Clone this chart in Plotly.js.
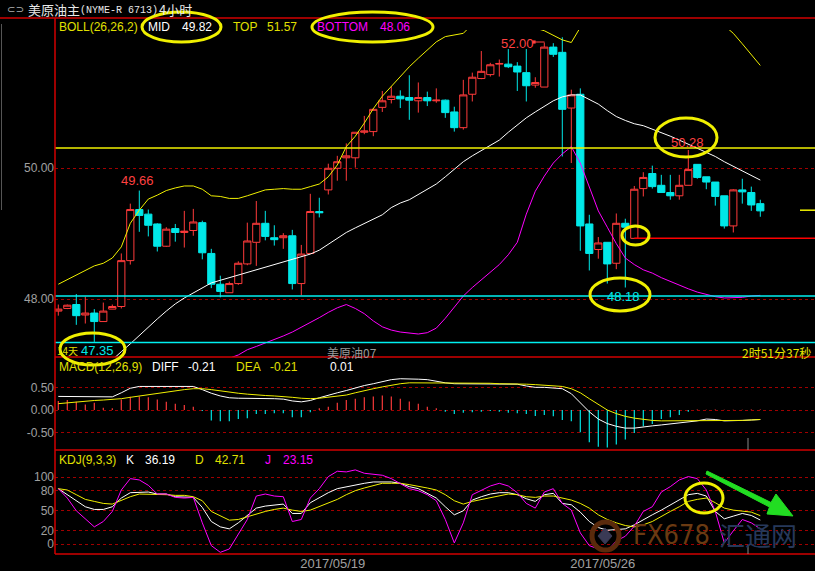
<!DOCTYPE html>
<html><head><meta charset="utf-8">
<script src="https://cdn.plot.ly/plotly-3.0.1.min.js"></script>
<style>html,body{margin:0;padding:0;background:#000;overflow:hidden}#chart{width:815px;height:571px}</style>
</head><body><div id="chart"></div>
<script>
// ---------------- DATA ----------------
const open = [47.82,47.86,47.92,47.76,47.79,47.66,47.85,47.89,48.59,49.37, 49.30,49.15,48.81,49.08,49.02,49.05,49.17,48.70,48.23,48.10, 48.24,48.54,48.87,49.16,48.94,48.94,48.97,48.24,48.70,49.34, 49.67,50.00,50.16,50.16,50.55,50.56,50.93,51.05,51.10,51.08, 51.03,51.08,51.03,51.04,50.86,50.62,51.13,51.37,51.43,51.59, 51.59,51.56,51.46,51.27,51.24,51.85,51.77,50.92,51.13,49.15, 48.76,48.87,48.55,49.16,48.93,49.69,49.92,49.74,49.63,49.58, 49.74,50.06,49.87,49.79,49.58,49.12,49.67,49.63,49.46];
const high = [47.92,47.92,48.08,48.04,47.85,47.95,47.92,48.70,49.46,49.66, 49.37,49.16,49.10,49.15,49.35,49.38,49.20,48.77,48.36,48.27, 48.58,49.17,49.50,49.35,49.13,49.01,49.06,48.83,49.61,49.55, 50.07,50.19,50.38,50.55,50.80,50.92,51.18,51.25,51.19,51.42, 51.31,51.17,51.22,51.05,50.94,51.35,51.46,51.79,51.61,51.66, 51.82,51.62,51.82,51.39,51.92,51.91,52.00,51.20,51.22,49.29, 48.95,48.87,49.31,49.23,49.73,49.94,50.04,49.90,49.90,49.90, 50.28,50.06,49.87,49.79,49.58,49.68,49.84,49.72,49.52];
const low = [47.75,47.85,47.61,47.63,47.35,47.66,47.85,47.86,48.53,49.03, 48.96,48.73,48.80,48.88,48.79,48.97,48.61,48.17,48.03,48.10, 48.22,48.52,48.51,48.90,48.82,48.77,48.15,48.06,48.70,49.25, 49.60,49.81,49.81,50.01,50.52,50.49,50.86,50.99,50.92,50.74, 50.85,50.95,51.00,50.77,50.56,50.59,51.02,51.36,51.40,51.40, 51.53,51.18,51.02,51.23,51.24,51.70,50.18,50.08,48.74,48.44, 48.62,48.24,48.46,48.18,48.93,49.57,49.69,49.63,49.52,49.52, 49.74,49.84,49.68,49.43,49.08,49.02,49.46,49.35,49.26];
const close = [47.85,47.91,47.75,47.79,47.66,47.82,47.89,48.59,49.37,49.28, 49.13,48.81,49.07,49.02,49.04,49.18,48.71,48.23,48.12,48.24, 48.55,48.89,49.16,48.96,48.91,48.97,48.24,48.69,49.34,49.32, 50.00,50.10,50.19,50.55,50.57,50.90,51.03,51.10,51.06,51.04, 51.08,51.03,51.04,50.85,50.62,51.12,51.39,51.48,51.58,51.60, 51.55,51.47,51.26,51.31,51.85,51.74,50.90,51.12,49.12,48.70, 48.86,48.54,49.16,49.10,49.68,49.86,49.72,49.63,49.58,49.74, 49.98,49.86,49.79,49.57,49.12,49.67,49.64,49.44,49.35];

const bollMid = [46.40,46.50,46.60,46.70,46.80,46.95,47.08,47.20,47.32,47.45, 47.57,47.70,47.82,47.93,48.02,48.10,48.18,48.25,48.29,48.33, 48.37,48.40,48.44,48.48,48.52,48.56,48.60,48.64,48.69,48.75, 48.84,48.92,49.02,49.09,49.16,49.22,49.29,49.40,49.47,49.52, 49.60,49.68,49.76,49.87,49.99,50.10,50.19,50.27,50.35,50.43, 50.55,50.66,50.77,50.86,50.95,51.03,51.09,51.12,51.12,51.05, 50.98,50.88,50.79,50.73,50.68,50.65,50.60,50.55,50.49,50.43, 50.37,50.31,50.24,50.18,50.10,50.03,49.96,49.89,49.82];
const bollTop = [48.23,48.30,48.38,48.45,48.51,48.55,48.63,48.80,49.16,49.36, 49.53,49.59,49.66,49.70,49.73,49.73,49.68,49.58,49.57,49.54, 49.54,49.58,49.63,49.67,49.68,49.69,49.68,49.68,49.72,49.76, 49.87,50.05,50.33,50.49,50.69,50.91,51.10,51.25,51.40,51.55, 51.68,51.80,51.93,52.01,52.04,52.06,52.20,52.24,52.29,52.33, 52.42,52.45,52.29,52.14,52.10,52.03,51.96,51.92,52.16,52.40, 52.61,52.66,52.73,52.83,52.83,52.85,52.80,52.77,52.71,52.65, 52.58,52.51,52.41,52.32,52.18,52.06,51.90,51.73,51.57];
const bollBottom = [44.60,44.70,44.80,44.90,45.10,45.20,45.40,45.60,45.50,45.50, 45.60,45.80,46.00,46.10,46.30,46.50,46.70,46.90,47.00,47.10, 47.15,47.23,47.28,47.33,47.38,47.44,47.50,47.57,47.64,47.72, 47.80,47.87,47.92,47.86,47.78,47.67,47.58,47.53,47.50,47.48, 47.47,47.49,47.56,47.71,47.88,48.05,48.18,48.30,48.41,48.53, 48.68,48.87,49.30,49.65,49.88,50.08,50.22,50.33,50.08,49.70, 49.35,49.10,48.85,48.63,48.53,48.45,48.40,48.33,48.27,48.21, 48.16,48.11,48.07,48.04,48.02,48.02,48.03,48.05,48.06];

const macdDiff = [0.30,0.30,0.30,0.30,0.29,0.29,0.29,0.38,0.48,0.52, 0.52,0.52,0.52,0.52,0.52,0.52,0.45,0.37,0.31,0.27, 0.26,0.26,0.26,0.26,0.25,0.24,0.20,0.18,0.21,0.27, 0.33,0.38,0.43,0.49,0.54,0.58,0.63,0.67,0.69,0.69, 0.68,0.67,0.63,0.60,0.58,0.58,0.58,0.58,0.58,0.58, 0.58,0.57,0.53,0.50,0.50,0.49,0.47,0.36,0.15,-0.04, -0.20,-0.30,-0.36,-0.40,-0.40,-0.37,-0.35,-0.33,-0.31,-0.29, -0.27,-0.24,-0.20,-0.21,-0.24,-0.24,-0.23,-0.22,-0.21];
const macdDea = [0.14,0.16,0.18,0.20,0.21,0.22,0.23,0.25,0.28,0.31, 0.34,0.37,0.40,0.43,0.45,0.47,0.47,0.45,0.42,0.39, 0.37,0.35,0.33,0.32,0.31,0.30,0.28,0.26,0.25,0.26, 0.28,0.30,0.33,0.38,0.43,0.47,0.51,0.55,0.58,0.60, 0.60,0.60,0.60,0.60,0.59,0.59,0.59,0.59,0.59,0.58, 0.58,0.58,0.57,0.56,0.55,0.54,0.52,0.47,0.38,0.25, 0.12,0.00,-0.08,-0.14,-0.18,-0.21,-0.23,-0.24,-0.24,-0.24, -0.24,-0.24,-0.24,-0.24,-0.24,-0.24,-0.23,-0.22,-0.21];
const macdHist = [0.20,0.22,0.18,0.12,0.16,0.05,0.04,0.23,0.29,0.30, 0.28,0.23,0.18,0.14,0.11,0.07,-0.02,-0.23,-0.25,-0.25, -0.20,-0.18,-0.09,-0.09,-0.07,-0.07,-0.16,-0.16,-0.05,0.04, 0.07,0.16,0.22,0.25,0.28,0.30,0.32,0.30,0.25,0.19, 0.14,0.07,0.04,-0.04,-0.09,-0.06,-0.05,-0.04,-0.02,-0.04, -0.06,-0.07,-0.09,-0.13,-0.11,-0.14,-0.22,-0.25,-0.49,-0.71, -0.81,-0.83,-0.76,-0.65,-0.51,-0.36,-0.31,-0.20,-0.16,-0.11, -0.04,0.01,0.005,0.01,0.005,0.005,0.005,0.01,0.01];

const kdjK = [83,74,64,56,52,52,56,69,77,78, 78,75,75,71,70,70,55,34,26,23, 32,43,54,57,59,60,46,46,62,70, 77,83,86,88,91,93,93,93,91, 86,83,76,69,56,44,50,66,71,75, 77,77,74,68,64,74,76,61,59,48, 34,25,21,22,23,29,37,44,51,59, 66,74,76,72,49,38,42,46,43,36.19];
const kdjD = [83,81,74,67,64,61,60,66,71,75, 75,75,74,73,73,71,65,49,42,36, 37,41,46,49,52,54,51,49,51,56, 61,67,74,80,84,88,91,91,91, 89,87,84,81,74,65,60,64,67,70, 73,75,74,71,70,72,72,69,66,61, 54,44,37,32,28,26,29,34,42,49, 56,64,67,69,62,54,51,49,48,42.71];
const kdjJ = [83,69,50,38,26,34,49,81,98,96, 88,75,75,70,69,70,32,-2,-12,-7, 15,37,72,75,72,71,34,37,69,83, 101,109,108,111,106,105,103,98,90, 83,80,74,65,37,2,32,74,81,87, 91,87,77,61,54,78,83,61,51,17, -2,-7,-10,5,12,27,49,56,78,86, 96,101,98,81,49,2,20,37,32,23.15];

const dateLabels = ['2017/05/19','2017/05/26'];
const bollLegend = {mid:'49.82', top:'51.57', bottom:'48.06'};
const macdLegend = {diff:'-0.21', dea:'-0.21', macd:'0.01'};
const kdjLegend = {k:'36.19', d:'42.71', j:'23.15'};
const priceMarks = {high:'52.00', mark1:'49.66', mark2:'50.28', low:'48.18', low14:'47.35'};
const levelLines = {yellow:50.31, cyan1:48.05, cyan2:47.34, red:48.93, last:49.36};

// ---------------- LAYOUT HELPERS ----------------
const barIdx = open.map((_, i) => i + 1);
const W=815,H=571,ML=55,MT=18,MB=17,MR=0;
const PW=W-ML-MR, PH=H-MT-MB;
const px = x => (x-ML)/PW;
const py = y => (H-MB-y)/PH;
const FONT = 'Liberation Sans, Arial, sans-serif';
const CJK = 'Noto Sans CJK SC, sans-serif';
const RED='#ff3b3b', CYAN='#00e8e8', YEL='#ffff00', MAG='#ff00ff', WHITE='#ffffff', GREY='#a0a0a0', BORDER='#d20000';
const XR = [1-(58.3-ML)/9, 1-(58.3-ML)/9 + PW/9];

function txt(x,y,s,color,size,family){
  return {xref:'paper',yref:'paper',x:px(x),y:py(y),text:s,showarrow:false,
    xanchor:'left',yanchor:'middle',borderpad:0,font:{color:color,size:size||12,family:family||FONT}};
}
function hline(y,x0,x1,color,w){return {type:'line',xref:'paper',yref:'paper',x0:px(x0),x1:px(x1),y0:py(y),y1:py(y),line:{color:color,width:w||1.5}};}
function vline(x,y0,y1,color,w){return {type:'line',xref:'paper',yref:'paper',x0:px(x),x1:px(x),y0:py(y0),y1:py(y1),line:{color:color,width:w||1.5}};}
function ell(x0,y0,x1,y1){return {type:'circle',xref:'paper',yref:'paper',x0:px(x0),x1:px(x1),y0:py(y1),y1:py(y0),line:{color:'#f0f000',width:3}};}
function pathPx(pts,fill){
  const d = pts.map((p,i)=>(i?'L':'M')+px(p[0]).toFixed(5)+','+py(p[1]).toFixed(5)).join(' ')+' Z';
  return {type:'path',xref:'paper',yref:'paper',path:d,fillcolor:fill,line:{color:fill,width:1}};
}

// ---------------- TRACES ----------------
const traces = [
  {type:'candlestick',x:barIdx,open:open,high:high,low:low,close:close,xaxis:'x',yaxis:'y',
   increasing:{line:{color:RED,width:1},fillcolor:'#000000'},
   decreasing:{line:{color:CYAN,width:1},fillcolor:CYAN},whiskerwidth:0,hoverinfo:'skip',showlegend:false},
  {type:'scatter',mode:'lines',x:barIdx,y:bollMid,line:{color:WHITE,width:1},yaxis:'y',hoverinfo:'skip'},
  {type:'scatter',mode:'lines',x:barIdx,y:bollTop,line:{color:'#f0f000',width:1},yaxis:'y',hoverinfo:'skip'},
  {type:'scatter',mode:'lines',x:barIdx,y:bollBottom,line:{color:MAG,width:1},yaxis:'y',hoverinfo:'skip'},
  {type:'bar',x:barIdx,y:macdHist,width:0.13,marker:{color:macdHist.map(v=>v>=0?RED:CYAN),line:{width:0}},yaxis:'y2',hoverinfo:'skip'},
  {type:'scatter',mode:'lines',x:barIdx,y:macdDiff,line:{color:WHITE,width:1},yaxis:'y2',hoverinfo:'skip'},
  {type:'scatter',mode:'lines',x:barIdx,y:macdDea,line:{color:'#f0f000',width:1},yaxis:'y2',hoverinfo:'skip'},
  {type:'scatter',mode:'lines',x:barIdx,y:kdjK,line:{color:WHITE,width:1},yaxis:'y3',hoverinfo:'skip'},
  {type:'scatter',mode:'lines',x:barIdx,y:kdjD,line:{color:'#f0f000',width:1},yaxis:'y3',hoverinfo:'skip'},
  {type:'scatter',mode:'lines',x:barIdx,y:kdjJ,line:{color:MAG,width:1},yaxis:'y3',hoverinfo:'skip'}
];

const yCommon = {showline:false,zeroline:false,ticks:'',gridcolor:'#a00000',griddash:'dot',gridwidth:1,
  tickfont:{color:GREY,size:12,family:FONT},anchor:'x',fixedrange:true};

const layout = {
  width:W,height:H,paper_bgcolor:'#000',plot_bgcolor:'#000',showlegend:false,
  margin:{l:ML,r:MR,t:MT,b:MB},hovermode:false,
  boxgap:0.2,boxgroupgap:0,
  xaxis:{range:XR,anchor:'y3',showgrid:false,zeroline:false,showline:false,ticks:'',
    tickvals:[31.5,61.5],ticktext:dateLabels,tickfont:{color:GREY,size:13,family:FONT},
    rangeslider:{visible:false},fixedrange:true},
  yaxis:Object.assign({},yCommon,{domain:[py(357),py(30)],range:[47.119,52.111],tickvals:[48,50],ticktext:['48.00','50.00']}),
  yaxis2:Object.assign({},yCommon,{domain:[py(450),py(357)],range:[-0.883,1.17],tickvals:[-0.5,0,0.5],ticktext:['-0.50','0.00','0.50']}),
  yaxis3:Object.assign({},yCommon,{domain:[0,py(450)],range:[-14.5,140.7],tickvals:[0,20,50,80,100],ticktext:['0','20','50','80','100']}),
  shapes:[
    // level lines on price panel
    {type:'line',xref:'x',yref:'y',x0:XR[0],x1:XR[1],y0:levelLines.yellow,y1:levelLines.yellow,line:{color:'#f0f000',width:1.5}},
    {type:'line',xref:'x',yref:'y',x0:XR[0],x1:XR[1],y0:levelLines.cyan1,y1:levelLines.cyan1,line:{color:'#00f0f0',width:1.5}},
    {type:'line',xref:'x',yref:'y',x0:XR[0],x1:XR[1],y0:levelLines.cyan2,y1:levelLines.cyan2,line:{color:'#00f0f0',width:1.5}},
    {type:'line',xref:'x',yref:'y',x0:65,x1:XR[1],y0:levelLines.red,y1:levelLines.red,line:{color:'#ff0000',width:1.5}},
    {type:'line',xref:'x',yref:'y',x0:1+(800-58.3)/9,x1:XR[1],y0:levelLines.last,y1:levelLines.last,line:{color:'#f0f000',width:1.5}},
    // panel borders
    hline(18,0,815,BORDER), hline(357,55,815,BORDER), hline(450,55,815,BORDER), hline(554,55,815,BORDER),
    vline(55,18,554,BORDER),
    vline(1.5,24,210,'#555555',1),
    vline(748,438,450,'#888888',1), vline(748,545,554,'#888888',1),
    // highlight ellipses
    ell(142,12,221,42), ell(312,12,433,42), ell(655,118,717,157), ell(622,226,649,245),
    ell(590,278,650,311), ell(60,333,125,365), ell(685,483,723,513),
    // green arrow
    pathPx([[707,471],[771,502.5],[776,494],[793,516],[767,514],[769.5,507],[706,474]],'#22dd22'),
    // watermark logo
    {type:'circle',xref:'paper',yref:'paper',x0:px(592),x1:px(619),y0:py(550),y1:py(522),line:{color:'#5a2a0c',width:5}},
    pathPx([[598,536],[605,528],[612,536],[605,544]],'#3a3a55')
  ],
  annotations:[
    txt(6,10,'⊂⊃','#b0b0b0',10,'DejaVu Sans, sans-serif'),
    txt(27,10,'美原油主','#e8e8e8',13,CJK),
    txt(79,11,'(NYME-R 6713)','#e8e8e8',10,'Liberation Mono, monospace'),
    txt(158,10,'4小时','#e8e8e8',13,CJK),
    txt(58,27,'BOLL(26,26,2)','#e0e000'),
    txt(147,27,'MID',WHITE), txt(181,27,bollLegend.mid,WHITE),
    txt(232,27,'TOP','#e0e000'), txt(266,27,bollLegend.top,'#e0e000'),
    txt(316,27,'BOTTOM',MAG), txt(379,27,bollLegend.bottom,MAG),
    txt(58,367,'MACD(12,26,9)','#e0e000'),
    txt(151,367,'DIFF',WHITE), txt(187,367,macdLegend.diff,WHITE),
    txt(235,367,'DEA','#e0e000'), txt(269,367,macdLegend.dea,'#e0e000'),
    txt(329,367,macdLegend.macd,WHITE),
    txt(58,460,'KDJ(9,3,3)','#e0e000'),
    txt(125,460,'K',WHITE), txt(144,460,kdjLegend.k,WHITE),
    txt(194,460,'D','#e0e000'), txt(214,460,kdjLegend.d,'#e0e000'),
    txt(264,460,'J',MAG), txt(282,460,kdjLegend.j,MAG),
    txt(120,181,priceMarks.mark1,'#ff4040',13),
    txt(500,44,priceMarks.high,'#ff4040',13),
    {xref:'paper',yref:'paper',x:px(534),y:py(42),ax:12,ay:0,text:'',showarrow:true,arrowhead:7,arrowsize:0.8,arrowwidth:1,arrowcolor:'#ff4040'},
    txt(670,142,priceMarks.mark2,'#ff4040',13),
    txt(606,297,priceMarks.low,'#00e8e8',13),
    txt(56,350,'14天','#e0e000',10,CJK),
    txt(80,350,priceMarks.low14,'#00e8e8',13),
    txt(326,352,'美原油07','#9a9a9a',12,CJK),
    txt(741,352,'2时51分37秒','#e6e600',12,CJK),
    txt(632,534,'FX678','#6a3a12',27,'DejaVu Sans Condensed, DejaVu Sans, sans-serif'),
    txt(718,534,'汇通网','#26385a',26,CJK)
  ]
};

Plotly.newPlot('chart',traces,layout,{staticPlot:true,displayModeBar:false});
</script>
</body></html>
